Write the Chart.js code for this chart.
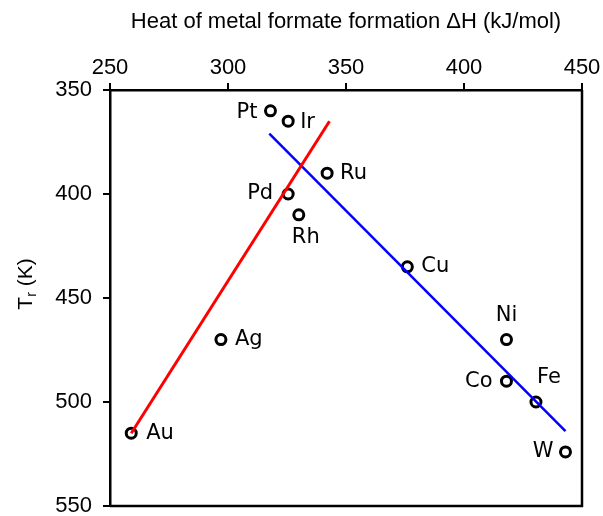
<!DOCTYPE html>
<html>
<head>
<meta charset="utf-8">
<script src="https://cdn.jsdelivr.net/npm/chart.js@4.4.1/dist/chart.umd.min.js"></script>
<style>
  html, body { margin: 0; padding: 0; background: #fff; }
  #wrap { width: 603px; height: 516px; }
</style>
</head>
<body>
<div id="wrap"><canvas id="canvas" width="603" height="516"></canvas></div>
<script>
// metals and their values
const metals = ['Pt', 'Ir', 'Ru', 'Pd', 'Rh', 'Cu', 'Ni', 'Co', 'Fe', 'W', 'Ag', 'Au'];
const heatFormation = [318, 325.5, 342, 325.5, 330, 376, 418, 418, 430.5, 443, 297, 259];
const reactionTemp = [360, 365, 390, 400, 410, 435, 470, 490, 500, 524, 470, 515];

// the two trend lines (end points)
const redLineX = [259, 343];
const redLineY = [515, 365];
const blueLineX = [317.5, 443];
const blueLineY = [371, 514];

const xTicks = [250, 300, 350, 400, 450];
const yTicks = [350, 400, 450, 500, 550];

const tickFont = '"Liberation Sans", Arial, Helvetica, sans-serif';
const labelFont = '"DejaVu Sans", sans-serif';

// where each name sits next to its point: [dx, dy, align]
const labelPlace = {
    Pt: [-13, 2, 'right'],
    Ir: [12, 1, 'left'],
    Ru: [13, 0, 'left'],
    Pd: [-15, 0, 'right'],
    Rh: [7, 23, 'center'],
    Cu: [14, 0, 'left'],
    Ni: [0, -24, 'center'],
    Co: [-14, 0, 'right'],
    Fe: [13, -24, 'center'],
    W: [-12, 0, 'right'],
    Ag: [14, 0, 'left'],
    Au: [15, 0, 'left']
};

let toPoints = (xs, ys) => xs.map((x, i) => ({x: x, y: ys[i]}));

const pointLabels = {
    id: 'pointLabels',
    afterDatasetsDraw(chart) {
        let ctx = chart.ctx;
        let meta = chart.getDatasetMeta(2);
        ctx.save();
        ctx.font = '21px ' + labelFont;
        ctx.fillStyle = '#000';
        ctx.textBaseline = 'middle';
        meta.data.forEach(function(pt, i) {
            let p = labelPlace[metals[i]];
            ctx.textAlign = p[2];
            ctx.fillText(metals[i], pt.x + p[0], pt.y + p[1]);
        });
        ctx.restore();
    }
};

// y title with subscript r
const yTitle = {
    id: 'yTitle',
    afterDraw(chart) {
        let ctx = chart.ctx;
        ctx.save();
        ctx.translate(24, 284);
        ctx.rotate(-Math.PI / 2);
        ctx.fillStyle = '#000';
        ctx.textBaseline = 'alphabetic';
        ctx.font = '21px ' + tickFont;
        let wT = ctx.measureText('T').width;
        ctx.font = '14px ' + tickFont;
        let wr = ctx.measureText('r').width;
        ctx.font = '21px ' + tickFont;
        let wK = ctx.measureText(' (K)').width;
        let start = -(wT + wr + wK) / 2;
        ctx.textAlign = 'left';
        ctx.fillText('T', start, 8);
        ctx.font = '14px ' + tickFont;
        ctx.fillText('r', start + wT, 12);
        ctx.font = '21px ' + tickFont;
        ctx.fillText(' (K)', start + wT + wr, 8);
        ctx.restore();
    }
};

// frame on right and bottom
const frame = {
    id: 'frame',
    afterDatasetsDraw(chart) {
        let a = chart.chartArea;
        let ctx = chart.ctx;
        ctx.save();
        ctx.strokeStyle = '#000';
        ctx.lineWidth = 2.5;
        ctx.beginPath();
        ctx.moveTo(a.left, a.bottom);
        ctx.lineTo(a.right, a.bottom);
        ctx.lineTo(a.right, a.top);
        ctx.stroke();
        ctx.restore();
    }
};

let ctx = document.getElementById('canvas').getContext('2d');
let config = {
    type: 'scatter',
    data: {
        datasets: [{
            label: 'red',
            type: 'line',
            data: toPoints(redLineX, redLineY),
            borderColor: '#ff0000',
            borderWidth: 3,
            pointRadius: 0,
            fill: false
        }, {
            label: 'blue',
            type: 'line',
            data: toPoints(blueLineX, blueLineY),
            borderColor: '#0000ff',
            borderWidth: 2.5,
            pointRadius: 0,
            fill: false
        }, {
            label: 'metals',
            data: toPoints(heatFormation, reactionTemp),
            pointRadius: 5,
            pointBorderWidth: 3,
            pointBorderColor: '#000',
            pointBackgroundColor: '#fff'
        }]
    },
    options: {
        responsive: false,
        animation: false,
        layout: { padding: { left: 0, top: 0, right: 21, bottom: 10 } },
        plugins: { legend: { display: false }, tooltip: { enabled: false } },
        scales: {
            x: {
                type: 'linear',
                position: 'top',
                min: 250,
                max: 450,
                afterBuildTicks: function(scale) { scale.ticks = xTicks.map(v => ({value: v})); },
                afterFit: function(scale) {
                    scale.height = 90;
                    scale.paddingLeft = 0;
                    scale.paddingRight = 0;
                },
                ticks: { color: '#000', font: { family: tickFont, size: 22 }, padding: 2 },
                grid: { drawOnChartArea: false, tickLength: 7, color: '#000', lineWidth: 2 },
                border: { color: '#000', width: 2.5 },
                title: {
                    display: true,
                    text: 'Heat of metal formate formation ΔH (kJ/mol)',
                    color: '#000',
                    font: { family: tickFont, size: 22 },
                    padding: { top: 9, bottom: 0 }
                }
            },
            y: {
                type: 'linear',
                reverse: true,
                min: 350,
                max: 550,
                afterBuildTicks: function(scale) { scale.ticks = yTicks.map(v => ({value: v})); },
                afterFit: function(scale) {
                    scale.width = 110;
                    scale.paddingTop = 0;
                    scale.paddingBottom = 0;
                },
                ticks: { color: '#000', font: { family: tickFont, size: 22 }, padding: 11 },
                grid: { drawOnChartArea: false, tickLength: 7, color: '#000', lineWidth: 2 },
                border: { color: '#000', width: 2.5 }
            }
        }
    },
    plugins: [pointLabels, yTitle, frame]
};

let chart = new Chart(ctx, config);
</script>
</body>
</html>
